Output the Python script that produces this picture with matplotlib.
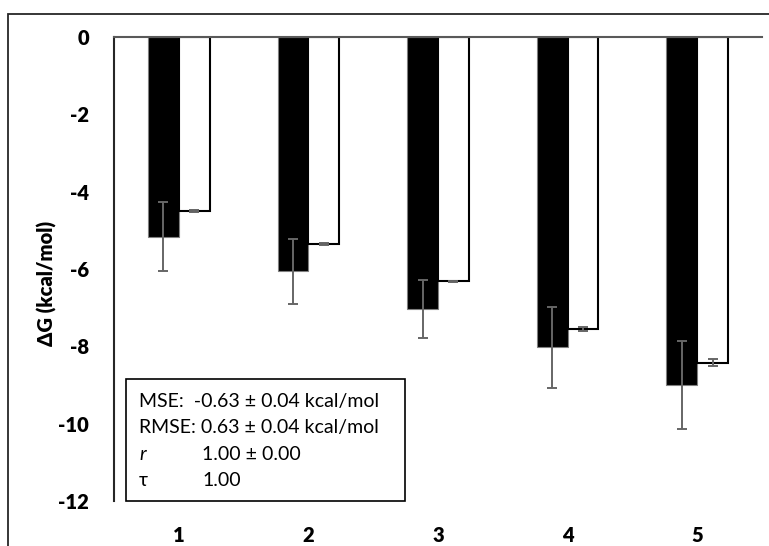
import matplotlib
matplotlib.use("Agg")
import matplotlib.pyplot as plt
from matplotlib.patches import Rectangle
import numpy as np

# data
categories = ["1", "2", "3", "4", "5"]
black_vals = [-5.16, -6.06, -7.04, -8.03, -9.00]
black_err = [0.88, 0.84, 0.75, 1.04, 1.14]
white_vals = [-4.50, -5.36, -6.32, -7.56, -8.42]
white_err = [0.03, 0.03, 0.02, 0.05, 0.09]
yticks = [0, -2, -4, -6, -8, -10, -12]

plt.rcParams['font.family'] = ['Lato', 'DejaVu Sans']

W, H = 769, 546
fig = plt.figure(figsize=(W / 100, H / 100), dpi=100)

# outer chart frame (top and left visible, the rest is cropped)
fig.patches.append(Rectangle((8 / W, -0.1), 1.2, (H - 14) / H + 0.1,
                             transform=fig.transFigure, fill=False,
                             edgecolor="#262626", linewidth=1.3))

ax = fig.add_axes([114 / W, (H - 501) / H, (762 - 114) / W, (501 - 37) / H])

x = np.arange(len(categories))
bw = 0.237
off = 0.119
ax.bar(x - off, black_vals, bw, color="black", edgecolor="#7f7f7f", linewidth=0.8, zorder=2)
ax.bar(x + off, white_vals, bw, color="white", edgecolor="black", linewidth=1.5, zorder=2)
ax.errorbar(x - off, black_vals, yerr=black_err, fmt="none", ecolor="#666666",
            elinewidth=1.4, capsize=3.5, capthick=1.4, zorder=3)
ax.errorbar(x + off, white_vals, yerr=white_err, fmt="none", ecolor="#666666",
            elinewidth=1.4, capsize=3.5, capthick=1.4, zorder=3)

ax.set_xlim(-0.5, len(categories) - 0.5)
ax.set_ylim(-12, 0)
ax.set_yticks(yticks)
ax.set_yticklabels([str(t) for t in yticks], fontsize=14.5, fontweight="heavy")
ax.set_xticks(x)
ax.set_xticklabels(categories, fontsize=14.5, fontweight="heavy")
ax.tick_params(axis="y", length=0, pad=18)
ax.tick_params(axis="x", length=0, pad=18)
ax.xaxis.set_ticks_position("bottom")

for s in ["right", "bottom"]:
    ax.spines[s].set_visible(False)
ax.spines["left"].set_color("#262626")
ax.spines["left"].set_linewidth(1.5)
ax.spines["top"].set_color("#595959")
ax.spines["top"].set_linewidth(1.5)

fig.text(47 / W, 1 - 283 / H, "ΔG (kcal/mol)", rotation=90, fontsize=14.5,
         fontweight="heavy", ha="center", va="center")

# statistics box
box = Rectangle((126 / W, 1 - 501 / H), (405 - 126) / W, (501 - 379) / H,
                transform=fig.transFigure, facecolor="white", edgecolor="black",
                linewidth=1.2, zorder=5)
fig.patches.append(box)
rows = [("MSE:  -0.63 ± 0.04 kcal/mol", None),
        ("RMSE: 0.63 ± 0.04 kcal/mol", None),
        ("r", "1.00 ± 0.00"),
        ("τ", "1.00")]
ys = [401.5, 427.5, 454, 480]
for (lab, val), yy in zip(rows, ys):
    style = "italic" if lab == "r" else "normal"
    fig.text(139 / W, 1 - yy / H, lab, fontsize=14, style=style,
             ha="left", va="center", zorder=6)
    if val:
        fig.text(202 / W, 1 - yy / H, val, fontsize=14, ha="left", va="center", zorder=6)

fig.savefig("out.png", dpi=100)
